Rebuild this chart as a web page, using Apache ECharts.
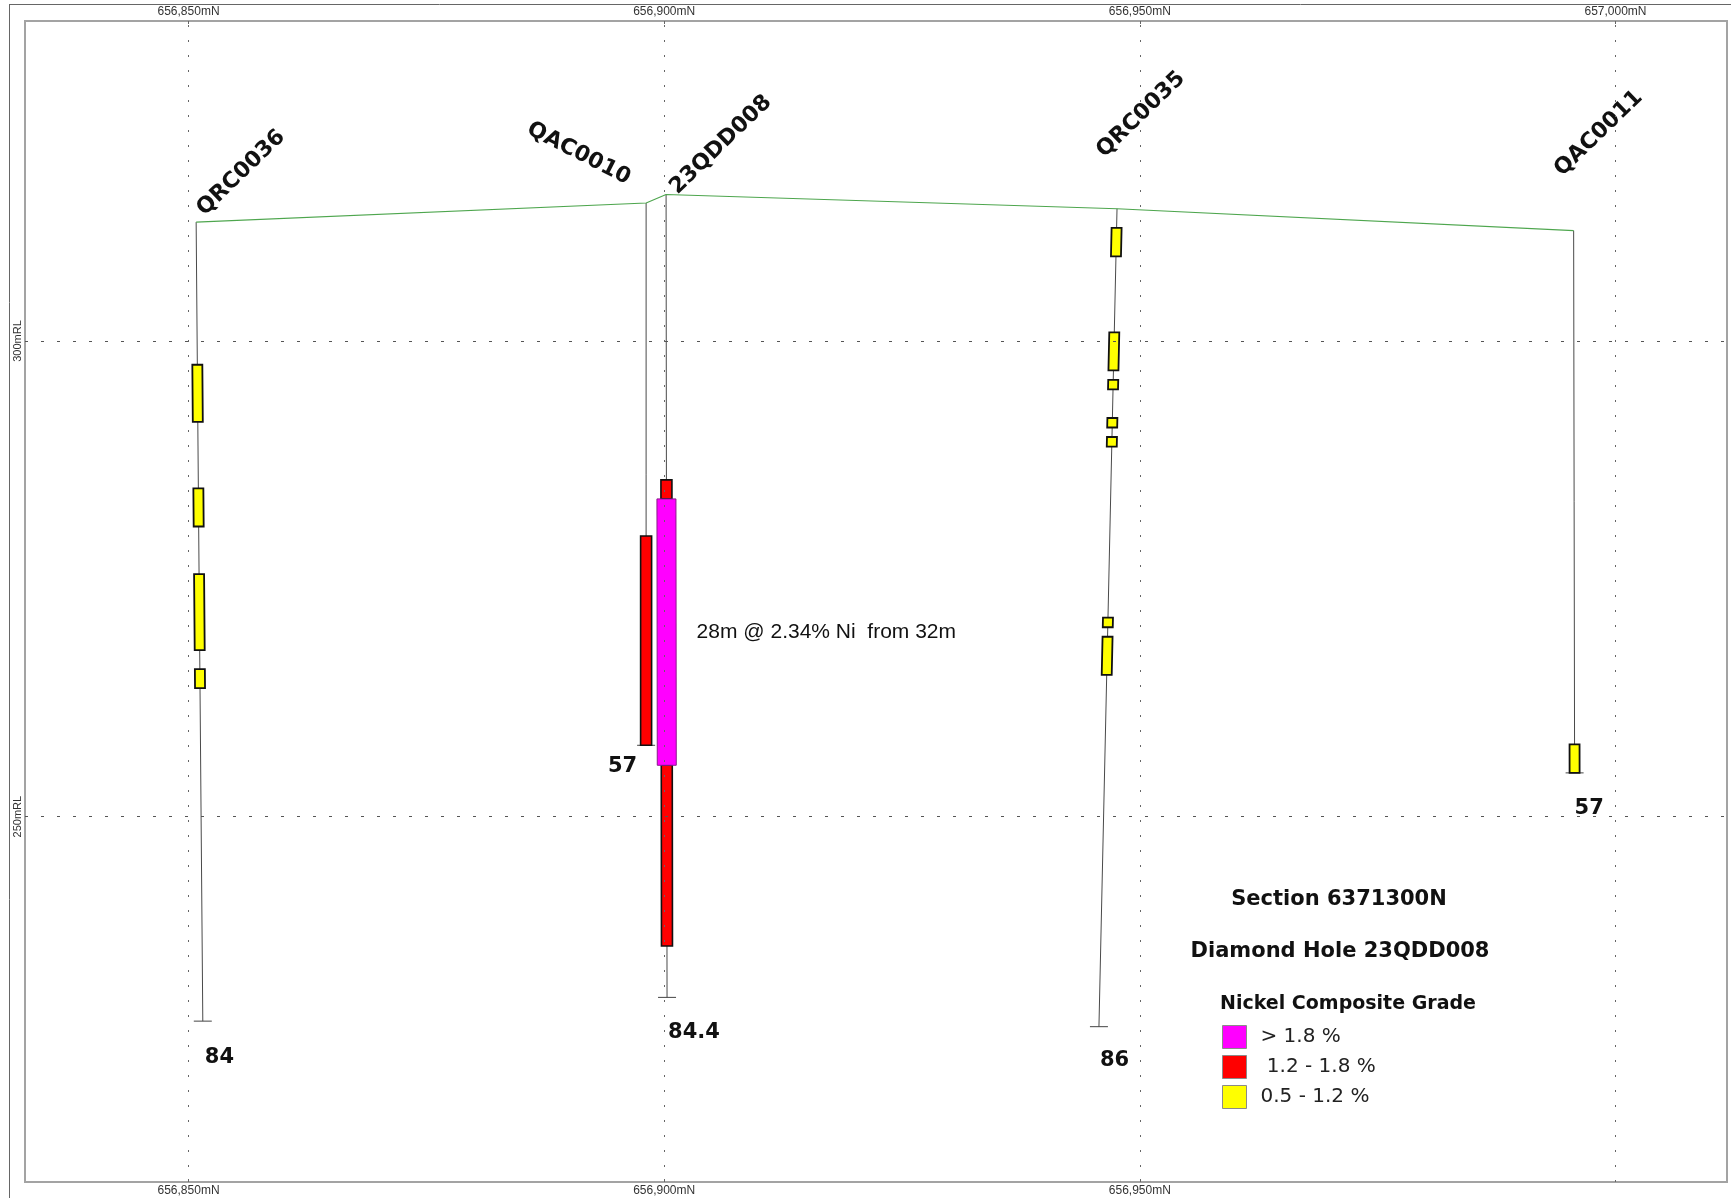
<!DOCTYPE html>
<html>
<head>
<meta charset="utf-8">
<title>Section 6371300N</title>
<script src="https://cdn.jsdelivr.net/npm/echarts@6/dist/echarts.min.js"></script>
<style>
  html, body { margin: 0; padding: 0; background: #fff; }
  #chart { width: 1731px; height: 1198px; }
</style>
</head>
<body>
<div id="chart"></div>
<script>
// ---- drill holes on the section (northing / RL in metres) ----
const holeNames      = ['QRC0036', 'QAC0010', '23QDD008', 'QRC0035', 'QAC0011'];
const collarNorthing = [656850.8, 656898.1, 656900.2, 656947.6, 656995.6];
const collarRL       = [312.5, 314.5, 315.4, 313.9, 311.6];
const eohNorthing    = [656851.5, 656898.1, 656900.3, 656945.7, 656995.7];
const holeDepth      = [84, 57, 84.4, 86, 57];

// ---- nickel composites: [hole, from (m), to (m)] ----
const gradeAbove18 = [['23QDD008', 32, 60]];
const grade12to18 = [['QAC0010', 35, 57], ['23QDD008', 30, 32], ['23QDD008', 60, 79]];
const grade05to12 = [
  ['QRC0036', 15, 21], ['QRC0036', 28, 32], ['QRC0036', 37, 45], ['QRC0036', 47, 49],
  ['QRC0035', 2, 5], ['QRC0035', 13, 17], ['QRC0035', 18, 19], ['QRC0035', 22, 23],
  ['QRC0035', 24, 25], ['QRC0035', 43, 44], ['QRC0035', 45, 49],
  ['QAC0011', 54, 57]
];
const interceptGrade = 2.34;

// ---- axis ticks ----
const northingTicksTop = [656850, 656900, 656950, 657000];
const northingTicksBottom = [656850, 656900, 656950];
const rlTicks = [250, 300];

const legendNames = ['> 1.8 %', ' 1.2 - 1.8 %', '0.5 - 1.2 %'];

// ---- label placement (pixels relative to collar / end of hole) ----
const nameLabelLayout = [
  { dx: 12, dy: -2, rot: 44, align: 'left' },
  { dx: -22, dy: -14, rot: -27, align: 'right' },
  { dx: 15, dy: 4, rot: 44, align: 'left' },
  { dx: -9, dy: -47, rot: 44, align: 'left' },
  { dx: -8, dy: -50, rot: 44, align: 'left' }
];
const depthLabelLayout = [
  { dx: 2, dy: 36, align: 'left' },
  { dx: -9, dy: 21, align: 'right' },
  { dx: 1, dy: 35, align: 'left' },
  { dx: 1, dy: 34, align: 'left' },
  { dx: 0, dy: 36, align: 'left' }
];

// position down a straight hole trace at a given downhole depth
function pointAt(h, d) {
  const D = holeDepth[h];
  const dn = eohNorthing[h] - collarNorthing[h];
  const dz = Math.sqrt(D * D - dn * dn);
  return [collarNorthing[h] + dn * d / D, collarRL[h] - dz * d / D];
}

function intervalRows(list) {
  return list.map(([name, from, to]) => {
    const h = holeNames.indexOf(name);
    const a = pointAt(h, from), b = pointAt(h, to);
    return [a[0], a[1], b[0], b[1], h, from, to];
  });
}

const holeRows = holeNames.map((n, h) => {
  const e = pointAt(h, holeDepth[h]);
  return [collarNorthing[h], collarRL[h], e[0], e[1], h];
});

const topoOrder = holeNames.map((n, i) => i).sort((a, b) => collarNorthing[a] - collarNorthing[b]);
const topoLine = topoOrder.map(i => [collarNorthing[i], collarRL[i]]);

const BOLD = '"DejaVu Sans", Verdana, sans-serif';

function intervalRenderer(color, stroke, strokeW, halfW, annotate) {
  return function (params, api) {
    const p0 = api.coord([api.value(0), api.value(1)]);
    const p1 = api.coord([api.value(2), api.value(3)]);
    const children = [{
      type: 'polygon',
      shape: { points: [[p0[0] - halfW, p0[1]], [p0[0] + halfW, p0[1]], [p1[0] + halfW, p1[1]], [p1[0] - halfW, p1[1]]] },
      style: { fill: color, stroke: stroke, lineWidth: strokeW }
    }];
    if (annotate) {
      const from = api.value(5), to = api.value(6);
      children.push({
        type: 'text',
        x: (p0[0] + p1[0]) / 2 + 30,
        y: (p0[1] + p1[1]) / 2,
        style: {
          text: (to - from) + 'm @ ' + interceptGrade + '% Ni  from ' + from + 'm',
          align: 'left', verticalAlign: 'middle',
          fontFamily: '"Liberation Sans", Arial, sans-serif', fontSize: 21, fill: '#111'
        }
      });
    }
    return { type: 'group', children };
  };
}

const chart = echarts.init(document.getElementById('chart'));
chart.setOption({
  animation: false,
  backgroundColor: '#fff',
  grid: {
    left: 25, top: 21, width: 1702, height: 1161,
    show: true, borderColor: '#a3a3a3', borderWidth: 2, backgroundColor: '#fff'
  },
  xAxis: [{
    type: 'value', position: 'bottom', min: 656832.81, max: 657011.72,
    axisLine: { show: false }, splitLine: { show: false },
    axisTick: { show: true, inside: true, length: 3, customValues: northingTicksBottom, lineStyle: { color: '#666' } },
    axisLabel: {
      customValues: northingTicksBottom, margin: 3,
      formatter: v => v.toLocaleString('en-US') + 'mN',
      fontFamily: '"Liberation Sans", Arial, sans-serif', fontSize: 12, color: '#333'
    }
  }, {
    type: 'value', position: 'top', min: 656832.81, max: 657011.72,
    axisLine: { show: false }, splitLine: { show: false },
    axisTick: { show: true, inside: true, length: 3, customValues: northingTicksTop, lineStyle: { color: '#666' } },
    axisLabel: {
      customValues: northingTicksTop, margin: 3,
      formatter: v => v.toLocaleString('en-US') + 'mN',
      fontFamily: '"Liberation Sans", Arial, sans-serif', fontSize: 12, color: '#333'
    }
  }],
  yAxis: {
    type: 'value', min: 211.593, max: 333.638,
    axisLine: { show: false }, splitLine: { show: false },
    axisTick: { show: false },
    axisLabel: {
      customValues: rlTicks, rotate: 90, margin: 2,
      formatter: v => v + 'mRL',
      fontFamily: '"Liberation Sans", Arial, sans-serif', fontSize: 11, color: '#333'
    }
  },
  title: [
    { text: 'Section 6371300N', left: 1339, top: 889, textAlign: 'center', padding: 0,
      textStyle: { fontFamily: BOLD, fontWeight: 'bold', fontSize: 21, color: '#111' } },
    { text: 'Diamond Hole 23QDD008', left: 1340, top: 941, textAlign: 'center', padding: 0,
      textStyle: { fontFamily: BOLD, fontWeight: 'bold', fontSize: 21, color: '#111' } },
    { text: 'Nickel Composite Grade', left: 1348, top: 995, textAlign: 'center', padding: 0,
      textStyle: { fontFamily: BOLD, fontWeight: 'bold', fontSize: 19, color: '#111' } }
  ],
  legend: {
    data: legendNames, orient: 'vertical', left: 1222, top: 1025, padding: 0,
    itemWidth: 24, itemHeight: 23, itemGap: 6, icon: 'rect', selectedMode: false,
    itemStyle: { borderColor: '#8a8a8a', borderWidth: 1 },
    textStyle: { fontFamily: BOLD, fontSize: 20, color: '#222', padding: [0, 0, 0, 9] }
  },
  graphic: [
    { type: 'line', shape: { x1: 9, y1: 4.5, x2: 1731, y2: 4.5 }, style: { stroke: '#666', lineWidth: 1 } },
    { type: 'line', shape: { x1: 9.5, y1: 4, x2: 9.5, y2: 1198 }, style: { stroke: '#666', lineWidth: 1 } }
  ],
  series: [
    {
      name: 'holes', type: 'custom', clip: false, z: 2,
      encode: { x: [0, 2], y: [1, 3] },
      data: holeRows,
      renderItem(params, api) {
        const h = api.value(4);
        const c = api.coord([api.value(0), api.value(1)]);
        const e = api.coord([api.value(2), api.value(3)]);
        const nl = nameLabelLayout[h], dl = depthLabelLayout[h];
        return {
          type: 'group', children: [
            { type: 'line', shape: { x1: c[0], y1: c[1], x2: e[0], y2: e[1] }, style: { stroke: '#4a4a4a', lineWidth: 1 } },
            { type: 'line', shape: { x1: e[0] - 9, y1: e[1], x2: e[0] + 9, y2: e[1] }, style: { stroke: '#444', lineWidth: 1 } },
            { type: 'text', x: e[0] + dl.dx, y: e[1] + dl.dy,
              style: { text: String(holeDepth[h]), align: dl.align, verticalAlign: 'middle',
                fontFamily: BOLD, fontWeight: 'bold', fontSize: 21, fill: '#111' } },
            { type: 'text', x: c[0] + nl.dx, y: c[1] + nl.dy, rotation: nl.rot * Math.PI / 180,
              style: { text: holeNames[h], align: nl.align, verticalAlign: 'bottom',
                fontFamily: BOLD, fontWeight: 'bold', fontSize: 22, fill: '#111' } }
          ]
        };
      }
    },
    {
      name: 'topography', type: 'line', data: topoLine, symbol: 'none', z: 3,
      lineStyle: { color: '#4ea64e', width: 1.1 }
    },
    {
      name: legendNames[2], type: 'custom', clip: false, z: 4,
      itemStyle: { color: '#ffff00' },
      encode: { x: [0, 2], y: [1, 3] },
      data: intervalRows(grade05to12),
      renderItem: intervalRenderer('#ffff00', '#111', 1.8, 5, false)
    },
    {
      name: legendNames[1], type: 'custom', clip: false, z: 4,
      itemStyle: { color: '#ff0000' },
      encode: { x: [0, 2], y: [1, 3] },
      data: intervalRows(grade12to18),
      renderItem: intervalRenderer('#ff0000', '#111', 1.6, 5.5, false)
    },
    {
      name: legendNames[0], type: 'custom', clip: false, z: 4,
      itemStyle: { color: '#ff00ff' },
      encode: { x: [0, 2], y: [1, 3] },
      data: intervalRows(gradeAbove18),
      renderItem: intervalRenderer('#ff00ff', '#8a1a8a', 1, 9.5, true)
    },
    {
      name: 'grid', type: 'line', data: [], z: 6, silent: true,
      markLine: {
        silent: true, symbol: ['none', 'none'], label: { show: false }, animation: false,
        data: northingTicksTop.map(v => ({ xAxis: v, lineStyle: { color: '#666', type: [2, 13], width: 1 } }))
          .concat(rlTicks.map(v => ({ yAxis: v, lineStyle: { color: '#555', type: [3, 13], width: 1 } })))
      }
    }
  ]
});
</script>
</body>
</html>
